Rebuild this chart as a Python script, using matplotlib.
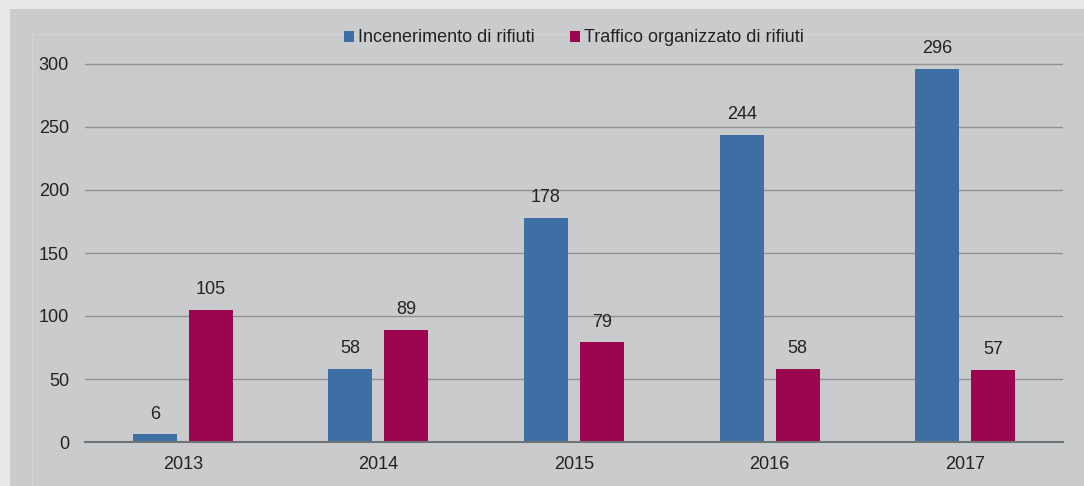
import matplotlib.pyplot as plt
import numpy as np
from matplotlib.patches import Rectangle

plt.rcParams['font.family'] = ['Liberation Sans', 'DejaVu Sans']

anni = ["2013", "2014", "2015", "2016", "2017"]
incenerimento = [6, 58, 178, 244, 296]
traffico = [105, 89, 79, 58, 57]

blu = "#3d6fa4"
rosso = "#9c0650"
sfondo = "#cacbcd"

fig = plt.figure(figsize=(10.84, 4.86), dpi=100)
fig.patch.set_facecolor("#e6e7e9")
# pannello grigio e cornice interna
fig.patches.append(Rectangle((10/1084, 0), 1, 1 - 9/486, transform=fig.transFigure,
                             facecolor=sfondo, edgecolor="none", zorder=-2))
fig.patches.append(Rectangle((32/1084, -0.1), 1, 1 - 34/486 + 0.1, transform=fig.transFigure,
                             facecolor="none", edgecolor="#d2d3d5", lw=1, zorder=-1))

ax = fig.add_axes([85/1084, 44/486, (1063-85)/1084, (442-64)/486 * 330/300])
ax.set_facecolor("none")
x = np.arange(len(anni))
w = 0.225
off = 0.143
b1 = ax.bar(x - off, incenerimento, w, color=blu, label="Incenerimento di rifiuti", zorder=3)
b2 = ax.bar(x + off, traffico, w, color=rosso, label="Traffico organizzato di rifiuti", zorder=3)
for bars in (b1, b2):
    for r in bars:
        ax.annotate(f"{int(r.get_height())}", (r.get_x() + r.get_width()/2, r.get_height()),
                    xytext=(0, 8.5), textcoords="offset points", ha="center", va="bottom",
                    fontsize=13, color="#222222")

ax.set_xlim(-0.5, 4.5)
ax.set_ylim(0, 330)
ax.set_yticks(range(0, 301, 50))
ax.set_xticks(x)
ax.set_xticklabels(anni)
ax.grid(axis="y", color="#8f9092", lw=1, zorder=1)
for s in ("top", "right", "left"):
    ax.spines[s].set_visible(False)
ax.spines["bottom"].set_color("#6e7375")
ax.spines["bottom"].set_linewidth(1.5)
ax.spines["bottom"].set_zorder(4)
ax.tick_params(axis="both", length=0, labelsize=13, colors="#222222")
ax.tick_params(axis="y", pad=11.5)
ax.tick_params(axis="x", pad=10)

fig.legend(loc="center", bbox_to_anchor=(574/1084, 1 - 38/486), ncol=2, frameon=False,
           fontsize=13, handlelength=0.55, handleheight=0.55, handletextpad=0.2,
           columnspacing=2.0, labelcolor="#222222")

fig.savefig("out.png", dpi=100)
